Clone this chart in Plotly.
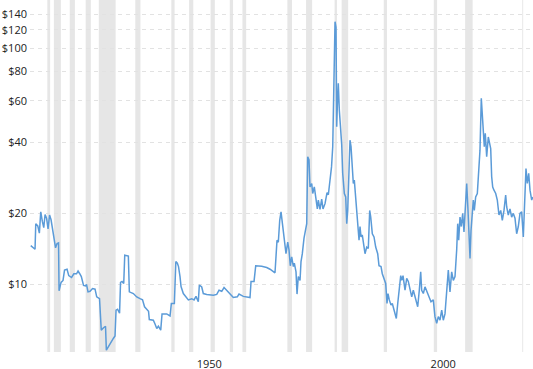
import plotly.graph_objects as go

years = [
    1915.06, 1915.98, 1916.13, 1916.56, 1916.9, 1917.2, 1917.54, 1917.84, 1918.12, 1918.44,
    1918.76, 1919.08, 1919.4, 1919.72, 1920.04, 1920.36, 1920.68, 1921.0, 1921.11, 1921.54,
    1921.96, 1922.28, 1922.82, 1923.18, 1923.78, 1924.27, 1924.85, 1925.17, 1925.53, 1925.87,
    1926.34, 1926.77, 1926.98, 1927.3, 1927.73, 1928.27, 1928.8, 1929.16, 1929.76, 1930.13,
    1930.62, 1931.04, 1931.22, 1931.64, 1932.22, 1932.71, 1933.07, 1933.29, 1933.61, 1934.04,
    1934.25, 1934.57, 1934.93, 1935.15, 1935.92, 1936.13, 1936.99, 1937.71, 1938.42, 1938.95,
    1939.38, 1939.85, 1940.23, 1940.4, 1941.26, 1941.62, 1941.99, 1942.33, 1942.84, 1943.12,
    1944.12, 1944.83, 1945.11, 1945.75, 1946.07, 1946.39, 1946.64, 1946.96, 1947.18, 1947.67,
    1948.4, 1948.74, 1949.46, 1949.96, 1950.38, 1950.87, 1951.09, 1951.6, 1951.94, 1952.67,
    1954.08, 1954.81, 1955.3, 1955.88, 1956.37, 1957.07, 1957.65, 1958.36, 1959.21, 1959.57,
    1960.49, 1961.92, 1962.14, 1962.78, 1963.14, 1964.42, 1965.49, 1966.2, 1967.26, 1967.48,
    1967.69, 1967.97, 1968.27, 1968.55, 1968.83, 1969.12, 1969.4, 1969.61, 1969.98, 1970.26,
    1970.53, 1970.83, 1971.18, 1971.39, 1971.75, 1971.97, 1972.24, 1972.61, 1972.82, 1973.1,
    1973.46, 1973.68, 1974.04, 1974.25, 1974.53, 1974.74, 1975.11, 1975.32, 1975.66, 1975.96,
    1976.31, 1976.52, 1976.88, 1977.24, 1977.52, 1977.95, 1978.38, 1978.66, 1979.02, 1979.34,
    1979.6, 1979.72, 1979.87, 1980.09, 1980.3, 1980.45, 1980.58, 1980.79, 1981.01, 1981.31,
    1981.52, 1981.73, 1981.86, 1982.08, 1982.37, 1982.59, 1982.8, 1983.08, 1983.29, 1983.51,
    1983.72, 1984.0, 1984.21, 1984.47, 1984.72, 1984.94, 1985.22, 1985.43, 1985.64, 1985.92,
    1986.22, 1986.5, 1986.86, 1987.2, 1987.5, 1987.72, 1988.06, 1988.42, 1988.78, 1989.21,
    1989.49, 1989.92, 1990.19, 1990.62, 1990.92, 1991.2, 1991.41, 1991.69, 1992.05, 1992.33,
    1992.76, 1993.19, 1993.49, 1993.76, 1994.13, 1994.34, 1994.62, 1995.05, 1995.41, 1995.75,
    1996.11, 1996.48, 1996.82, 1997.33, 1997.76, 1998.1, 1998.4, 1998.61, 1998.96, 1999.32,
    1999.68, 2000.17, 2000.6, 2001.09, 2001.45, 2001.82, 2002.16, 2002.52, 2002.89, 2003.23,
    2003.59, 2003.95, 2004.3, 2004.66, 2005.02, 2005.37, 2005.73, 2006.09, 2006.31, 2006.52,
    2006.8, 2007.08, 2007.38, 2007.65, 2007.93, 2008.23, 2008.51, 2008.72, 2008.94, 2009.15,
    2009.43, 2009.64, 2009.86, 2010.15, 2010.5, 2010.79, 2011.07, 2011.35, 2011.56, 2011.78,
    2011.99, 2012.2, 2012.5, 2012.85, 2013.06, 2013.36, 2013.57, 2013.79, 2014.06, 2014.43,
    2014.77, 2015.13, 2015.5, 2015.84, 2016.2, 2016.56, 2016.78, 2017.12, 2017.48, 2017.84,
    2018.19, 2018.55, 2018.91, 2019.26, 2019.62, 2019.98, 2020.33, 2020.69, 2020.9, 2021.18,
    2021.48, 2021.76, 2022.12, 2022.4,
]

prices = [
    14.6, 14.1, 18.1, 17.7, 16.5, 20.3, 18.5, 17.4, 19.8, 19.1,
    17.2, 19.7, 18.8, 17.0, 15.9, 14.3, 14.9, 15.0, 9.4, 10.2,
    10.4, 11.5, 11.6, 10.9, 10.7, 11.1, 11.1, 11.4, 11.1, 10.8,
    9.9, 9.85, 10.0, 9.3, 9.35, 9.6, 9.55, 8.86, 8.7, 6.4,
    6.55, 6.65, 5.26, 5.45, 5.65, 5.9, 6.05, 7.78, 7.85, 7.55,
    10.2, 10.3, 10.1, 13.3, 13.2, 9.3, 9.15, 8.85, 8.7, 8.6,
    8.04, 7.8, 7.7, 7.1, 7.05, 6.8, 6.5, 6.65, 6.4, 7.5,
    7.5, 7.35, 8.3, 8.3, 12.5, 12.3, 11.9, 10.8, 9.8, 9.15,
    8.7, 8.6, 8.7, 8.6, 8.9, 8.45, 9.95, 9.75, 9.15, 9.07,
    9.0, 9.07, 9.45, 9.35, 9.7, 9.4, 9.15, 8.8, 8.86, 9.1,
    8.9, 8.8, 10.3, 10.3, 12.0, 11.95, 11.8, 11.6, 11.2, 14.4,
    15.4, 15.1, 18.7, 20.3, 18.4, 15.9, 14.4, 13.5, 15.1, 14.0,
    12.0, 13.1, 11.9, 12.3, 11.3, 9.1, 10.8, 10.4, 12.5, 13.5,
    15.7, 16.7, 18.1, 34.8, 33.7, 25.9, 26.8, 24.3, 25.9, 23.5,
    20.9, 22.8, 20.8, 23.0, 20.9, 22.0, 24.5, 24.0, 27.2, 31.5,
    38.4, 54.8, 66.7, 130.0, 123.0, 46.6, 56.8, 71.2, 54.8, 45.2,
    39.0, 29.6, 26.8, 24.3, 23.5, 18.1, 20.6, 27.7, 40.9, 38.4,
    33.7, 26.8, 27.7, 24.0, 20.6, 18.7, 15.4, 17.6, 15.9, 16.2,
    14.4, 13.5, 14.4, 14.2, 20.6, 19.3, 16.4, 15.9, 14.4, 13.5,
    12.0, 11.9, 11.1, 10.6, 10.1, 8.3, 9.15, 8.6, 8.17, 8.3,
    7.78, 7.17, 8.3, 9.45, 10.9, 10.4, 10.9, 9.45, 10.6, 10.3,
    9.45, 8.86, 9.45, 8.7, 8.04, 9.45, 11.3, 9.45, 9.15, 9.77,
    9.3, 8.86, 8.44, 8.6, 7.3, 6.84, 7.3, 7.05, 7.78, 7.05,
    7.5, 9.5, 11.5, 9.3, 11.3, 10.4, 10.8, 14.0, 18.1, 15.4,
    19.3, 17.6, 20.0, 16.7, 20.0, 26.8, 20.6, 15.9, 12.9, 16.9,
    20.6, 22.8, 20.6, 23.5, 24.3, 29.6, 37.1, 61.5, 51.4, 43.7,
    38.4, 43.7, 34.8, 42.2, 39.6, 37.7, 28.6, 25.9, 25.1, 24.3,
    22.8, 19.7, 20.6, 18.7, 20.6, 23.9, 21.3, 19.7, 20.9, 19.3,
    20.0, 19.1, 16.4, 17.6, 20.0, 20.3, 15.9, 25.1, 31.0, 26.8,
    29.6, 25.1, 22.8, 23.5,
]

recession_start = [1918.6, 1920.0, 1923.4, 1926.8, 1929.6, 1937.4, 1945.1, 1948.9, 1953.5,
                   1957.6, 1960.3, 1969.9, 1973.9, 1980.0, 1981.5, 1990.5, 2001.2, 2007.9, 2020.1]
recession_end = [1919.2, 1921.5, 1924.5, 1927.9, 1933.2, 1938.5, 1945.8, 1949.8, 1954.4,
                 1958.3, 1961.1, 1970.9, 1975.2, 1980.5, 1982.9, 1991.2, 2001.9, 2009.5, 2020.3]

y_tick_vals = [10, 20, 40, 60, 80, 100, 120, 140]
y_tick_text = ["$10", "$20", "$40", "$60", "$80", "$100", "$120", "$140"]
x_tick_vals = [1950, 2000]
x_tick_text = ["1950", "2000"]

fig = go.Figure()
fig.add_trace(go.Scatter(
    x=years, y=prices, mode="lines",
    line=dict(color="#5b9bd8", width=1.5),
    hoverinfo="skip", showlegend=False,
))

for s, e in zip(recession_start, recession_end):
    fig.add_shape(type="rect", xref="x", yref="paper", x0=s, x1=e, y0=0, y1=1,
                  fillcolor="#e6e6e6", line_width=0, layer="below")

fig.update_layout(
    width=533, height=369,
    margin=dict(l=30, r=0, t=0, b=17, autoexpand=False),
    paper_bgcolor="white", plot_bgcolor="white",
    font=dict(family="Open Sans", size=11, color="#222222"),
    showlegend=False,
)
fig.update_xaxes(
    range=[1914.9, 2022.4], tickvals=x_tick_vals, ticktext=x_tick_text,
    showgrid=False, zeroline=False, showline=False, ticks="",
    ticklabelshift=15, ticklabelstandoff=4, automargin=False,
)
fig.update_yaxes(
    type="log", range=[0.7135, 2.206], tickvals=y_tick_vals, ticktext=y_tick_text,
    showgrid=True, gridcolor="#e2e2e2", griddash="4px,4px", gridwidth=1,
    zeroline=False, showline=False, ticks="", ticklabelstandoff=2, automargin=False,
)

fig.write_html(
    "out.html",
    config={"displayModeBar": False},
    post_script="document.body.style.margin='0';document.body.style.overflow='hidden';",
)
